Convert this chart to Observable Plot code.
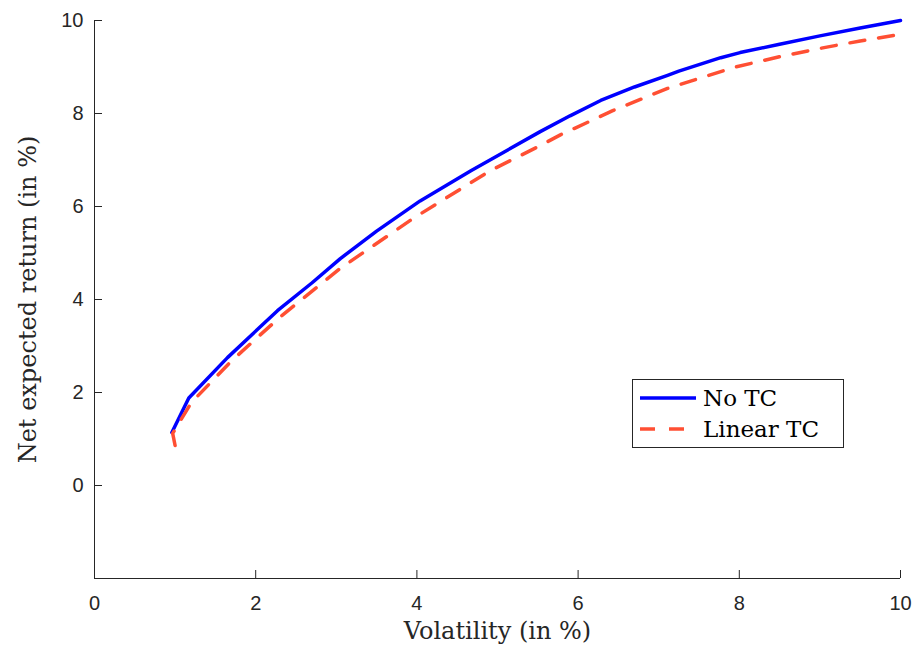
<!DOCTYPE html>
<html>
<head>
<meta charset="utf-8">
<script src="https://cdn.jsdelivr.net/npm/d3@7"></script>
<script src="https://cdn.jsdelivr.net/npm/@observablehq/plot@0.6"></script>
<style>
  html, body { margin: 0; padding: 0; background: #fff; }
  #wrap { position: relative; width: 917px; height: 649px; }
  #legend { position: absolute; left: 632px; top: 379px; width: 210px; height: 67px;
    border: 1px solid #262626; background: #fff; font-family: "DejaVu Serif", "Liberation Serif", serif;
    font-size: 23px; color: #000; }
  .row { position: absolute; left: 7px; display: flex; align-items: center; }
  .row span { margin-left: 7px; }
</style>
</head>
<body>
<div id="wrap"></div>
<script>
// ---- data ----
const noTC_vol = [0.96, 1.17, 1.65, 2.27, 2.70, 3.05, 3.50, 4.04, 4.67, 5.10, 5.53, 5.90, 6.28, 6.70, 7.11, 7.25, 7.77, 8.01, 8.5, 9.0, 9.5, 10.0];
const noTC_ret = [1.14, 1.88, 2.75, 3.76, 4.36, 4.88, 5.47, 6.12, 6.77, 7.19, 7.61, 7.95, 8.28, 8.57, 8.82, 8.91, 9.20, 9.31, 9.49, 9.67, 9.84, 10.0];
const linTC_vol = [1.0, 0.97, 1.2, 1.7, 2.3, 3.05, 3.95, 4.91, 5.53, 5.78, 6.43, 7.11, 7.93, 8.5, 9.0, 9.5, 10.0];
const linTC_ret = [0.86, 1.12, 1.78, 2.68, 3.62, 4.67, 5.74, 6.77, 7.31, 7.54, 8.06, 8.54, 8.99, 9.22, 9.40, 9.56, 9.70];
const seriesNames = ["No TC", "Linear TC"];
const xTicks = [0, 2, 4, 6, 8, 10];
const yTicks = [0, 2, 4, 6, 8, 10];
const xLabel = "Volatility (in %)";
const yLabel = "Net expected return (in %)";

// ---- build table ----
const rows = [
  ...noTC_vol.map((v, i) => ({ s: seriesNames[0], x: v, y: noTC_ret[i] })),
  ...linTC_vol.map((v, i) => ({ s: seriesNames[1], x: v, y: linTC_ret[i] }))
];

const W = 917, H = 649, ML = 94, MR = 17, MT = 20, MB = 71;
const plotW = W - ML - MR, plotH = H - MT - MB;
const axisColor = "#262626";
const sans = "Liberation Sans, Arial, sans-serif";
const serif = "DejaVu Serif, Liberation Serif, serif";
const blue = "#0000ff", red = "#ff4f33";

const chart = Plot.plot({
  width: W, height: H,
  marginLeft: ML, marginRight: MR, marginTop: MT, marginBottom: MB,
  style: { background: "#fff", overflow: "visible" },
  x: { domain: [0, 10], axis: null },
  y: { domain: [-2, 10], axis: null },
  marks: [
    // axis lines
    Plot.ruleX([0], { stroke: axisColor, strokeWidth: 1 }),
    Plot.ruleY([-2], { stroke: axisColor, strokeWidth: 1 }),
    // inward ticks
    Plot.tickY(yTicks, { y: d => d, insetRight: plotW - 8, stroke: axisColor }),
    Plot.tickX(xTicks, { x: d => d, insetTop: plotH - 8, stroke: axisColor }),
    // tick labels
    Plot.axisY({ ticks: yTicks, tickSize: 0, tickPadding: 11, fontSize: 20, fontFamily: sans, color: axisColor, label: null, tickFormat: d => String(d) }),
    Plot.axisX({ ticks: xTicks, tickSize: 0, tickPadding: 17, fontSize: 20, fontFamily: sans, color: axisColor, label: null, tickFormat: d => String(d) }),
    // axis titles
    Plot.text([xLabel], { text: d => d, frameAnchor: "bottom", textAnchor: "middle", dy: 53, fontSize: 24, fontFamily: serif, fill: axisColor, lineAnchor: "middle" }),
    Plot.text([yLabel], { text: d => d, frameAnchor: "left", textAnchor: "middle", dx: -66, rotate: -90, fontSize: 24, fontFamily: serif, fill: axisColor, lineAnchor: "middle" }),
    // series
    Plot.line(rows.filter(d => d.s === seriesNames[0]), { x: "x", y: "y", stroke: blue, strokeWidth: 3.5 }),
    Plot.line(rows.filter(d => d.s === seriesNames[1]), { x: "x", y: "y", stroke: red, strokeWidth: 3.5, strokeDasharray: "15,14" })
  ]
});

const wrap = document.getElementById("wrap");
wrap.appendChild(chart);

// legend
const legend = document.createElement("div");
legend.id = "legend";
const entries = [
  { name: seriesNames[0], color: blue, dash: null, top: 5 },
  { name: seriesNames[1], color: red, dash: "15,14", top: 36 }
];
for (const e of entries) {
  const row = document.createElement("div");
  row.className = "row";
  row.style.top = e.top + "px";
  row.innerHTML = `<svg width="56" height="26"><line x1="0" x2="56" y1="13" y2="13" stroke="${e.color}" stroke-width="3.5" ${e.dash ? `stroke-dasharray="${e.dash}"` : ""}/></svg><span>${e.name}</span>`;
  legend.appendChild(row);
}
wrap.appendChild(legend);
</script>
</body>
</html>
